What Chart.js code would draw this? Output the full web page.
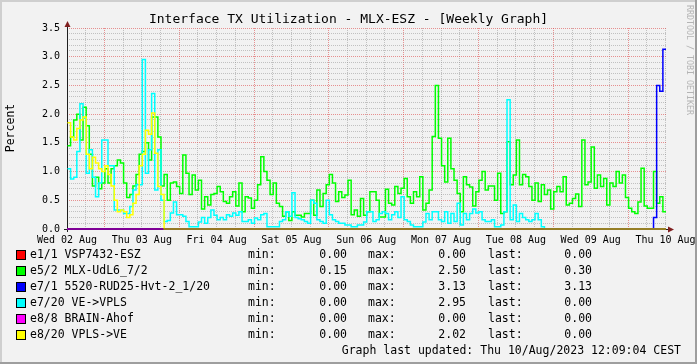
<!DOCTYPE html>
<html lang="en">
<head>
    <meta charset="UTF-8">
    <title>Interface TX Utilization - MLX-ESZ</title>
    <script src="https://cdn.jsdelivr.net/npm/chart.js"></script>
    <style>
        html, body { margin: 0; padding: 0; background: #f2f2f2; }
        #wrap { width: 697px; height: 364px; }
    </style>
</head>
<body>
<div id="wrap"><canvas id="txChart" width="697" height="364"></canvas></div>
<script>
    // one value per hour, first hour starts Wed 02 Aug 12:09 (hours counted from Wed 02 Aug 00:00)
    const startHour = 12.15;
    const chartTitle = 'Interface TX Utilization - MLX-ESZ - [Weekly Graph]';
    const unitLabel = 'Percent';
    const footerText = 'Graph last updated: Thu 10/Aug/2023 12:09:04 CEST';
    const dayLabels = ['Wed 02 Aug', 'Thu 03 Aug', 'Fri 04 Aug', 'Sat 05 Aug', 'Sun 06 Aug',
                       'Mon 07 Aug', 'Tue 08 Aug', 'Wed 09 Aug', 'Thu 10 Aug'];
    const yMax = 3.5;

    const seriesNames = ['e1/1 VSP7432-ESZ', 'e5/2 MLX-UdL6_7/2', 'e7/1 5520-RUD25-Hvt-2_1/20',
                         'e7/20 VE->VPLS', 'e8/8 BRAIN-Ahof', 'e8/20 VPLS->VE'];
    const seriesColors = ['#ff0000', '#00ff00', '#0000ff', '#00ffff', '#ff00ff', '#ffff00'];

    const e1_1 = [
        0, 0, 0, 0, 0, 0, 0, 0, 0, 0, 0, 0, 0, 0, 0, 0, 0, 0, 0, 0, 0, 0, 0, 0, 0, 0, 0, 0, 0, 0, 0, 0,
        0, 0, 0, 0, 0, 0, 0, 0, 0, 0, 0, 0, 0, 0, 0, 0, 0, 0, 0, 0, 0, 0, 0, 0, 0, 0, 0, 0, 0, 0, 0, 0,
        0, 0, 0, 0, 0, 0, 0, 0, 0, 0, 0, 0, 0, 0, 0, 0, 0, 0, 0, 0, 0, 0, 0, 0, 0, 0, 0, 0, 0, 0, 0, 0,
        0, 0, 0, 0, 0, 0, 0, 0, 0, 0, 0, 0, 0, 0, 0, 0, 0, 0, 0, 0, 0, 0, 0, 0, 0, 0, 0, 0, 0, 0, 0, 0,
        0, 0, 0, 0, 0, 0, 0, 0, 0, 0, 0, 0, 0, 0, 0, 0, 0, 0, 0, 0, 0, 0, 0, 0, 0, 0, 0, 0, 0, 0, 0, 0,
        0, 0, 0, 0, 0, 0, 0, 0, 0, 0, 0, 0, 0, 0, 0, 0, 0, 0, 0, 0, 0, 0, 0, 0, 0, 0, 0, 0, 0, 0, 0, 0
    ];
    const e5_2 = [
        1.45, 1.6, 1.9, 2.0, 1.55, 2.12, 1.8, 1.3, 0.75, 0.9, 0.7, 0.8, 1.05, 0.8, 1.05, 1.1,
        1.2, 1.15, 0.8, 0.55, 0.6, 0.75, 0.95, 1.3, 1.35, 1.5, 1.2, 1.95, 1.95, 1.6, 0.75, 0.95,
        0.5, 0.8, 0.82, 0.74, 0.62, 1.29, 0.97, 0.6, 0.94, 0.68, 0.85, 0.35, 0.56, 0.42, 0.6, 0.62,
        0.74, 0.65, 0.48, 0.45, 0.56, 0.65, 0.4, 0.8, 0.3, 0.56, 0.54, 0.36, 0.5, 0.77, 1.26, 1.0,
        0.85, 0.6, 0.8, 0.45, 0.39, 0.22, 0.3, 0.15, 0.3, 0.24, 0.24, 0.21, 0.27, 0.27, 0.5, 0.24,
        0.68, 0.39, 0.62, 0.77, 0.95, 0.8, 0.48, 0.65, 0.55, 0.59, 0.85, 0.25, 0.33, 0.22, 0.53, 0.24,
        0.3, 0.65, 0.65, 0.5, 0.21, 0.21, 0.69, 0.45, 0.42, 0.74, 0.62, 0.71, 0.88, 0.56, 0.45, 0.65,
        0.56, 0.91, 0.33, 0.45, 0.68, 1.61, 2.5, 1.58, 1.1, 0.82, 1.58, 1.05, 0.85, 0.62, 0.3, 0.91,
        0.77, 0.73, 0.4, 0.65, 0.85, 1.0, 0.68, 0.75, 0.75, 0.5, 0.97, 0.27, 0.3, 1.52, 0.77, 0.94,
        1.55, 0.77, 0.95, 0.91, 0.74, 0.5, 0.8, 0.48, 0.77, 0.6, 0.68, 0.35, 0.65, 0.74, 0.65, 0.91,
        0.42, 0.45, 0.53, 0.61, 0.39, 1.55, 0.77, 0.82, 1.43, 0.71, 0.94, 0.74, 0.88, 0.42, 0.8, 0.74,
        1.0, 0.8, 0.94, 0.55, 0.36, 0.3, 0.27, 0.47, 1.06, 0.4, 0.36, 0.36, 1.0, 0.45, 0.56, 0.3
    ];
    const e7_1 = [
        0, 0, 0, 0, 0, 0, 0, 0, 0, 0, 0, 0, 0, 0, 0, 0, 0, 0, 0, 0, 0, 0, 0, 0, 0, 0, 0, 0, 0, 0, 0, 0,
        0, 0, 0, 0, 0, 0, 0, 0, 0, 0, 0, 0, 0, 0, 0, 0, 0, 0, 0, 0, 0, 0, 0, 0, 0, 0, 0, 0, 0, 0, 0, 0,
        0, 0, 0, 0, 0, 0, 0, 0, 0, 0, 0, 0, 0, 0, 0, 0, 0, 0, 0, 0, 0, 0, 0, 0, 0, 0, 0, 0, 0, 0, 0, 0,
        0, 0, 0, 0, 0, 0, 0, 0, 0, 0, 0, 0, 0, 0, 0, 0, 0, 0, 0, 0, 0, 0, 0, 0, 0, 0, 0, 0, 0, 0, 0, 0,
        0, 0, 0, 0, 0, 0, 0, 0, 0, 0, 0, 0, 0, 0, 0, 0, 0, 0, 0, 0, 0, 0, 0, 0, 0, 0, 0, 0, 0, 0, 0, 0,
        0, 0, 0, 0, 0, 0, 0, 0, 0, 0, 0, 0, 0, 0, 0, 0, 0, 0, 0, 0, 0, 0, 0, 0, 0, 0, 0, 0, 0.2, 2.5, 2.4, 3.13
    ];
    const e7_20 = [
        1.05, 0.87, 0.9, 1.35, 2.18, 1.93, 0.97, 1.38, 0.9, 0.56, 0.8, 1.55, 1.55, 1.1, 1.1, 0.33,
        0.33, 0.33, 0.27, 0.27, 0.39, 0.68, 0.77, 0.77, 2.95, 0.97, 1.38, 2.36, 0.68, 1.38, 0.5, 0.13,
        0.15, 0.28, 0.47, 0.25, 0.25, 0.22, 0.13, 0.04, 0.04, 0.04, 0.12, 0.2, 0.1, 0.2, 0.33, 0.24,
        0.16, 0.2, 0.16, 0.25, 0.22, 0.28, 0.24, 0.3, 0.13, 0.13, 0.16, 0.1, 0.19, 0.16, 0.25, 0.27,
        0.04, 0.04, 0.04, 0.04, 0.13, 0.16, 0.3, 0.22, 0.63, 0.2, 0.18, 0.16, 0.13, 0.1, 0.5, 0.45,
        0.16, 0.13, 0.1, 0.5, 0.25, 0.16, 0.13, 0.1, 0.1, 0.07, 0.07, 0.04, 0.04, 0.07, 0.07, 0.12,
        0.3, 0.3, 0.13, 0.16, 0.27, 0.3, 0.27, 0.16, 0.25, 0.3, 0.2, 0.56, 0.16, 0.13, 0.07, 0.04,
        0.04, 0.04, 0.12, 0.27, 0.16, 0.3, 0.3, 0.16, 0.13, 0.3, 0.1, 0.27, 0.13, 0.45, 0.07, 0.27,
        0.16, 0.27, 0.35, 0.28, 0.3, 0.16, 0.13, 0.13, 0.16, 0.04, 0.04, 0.07, 0.3, 2.25, 0.16, 0.42,
        0.13, 0.27, 0.2, 0.16, 0.13, 0.16, 0.27, 0.16, 0.04, 0, 0, 0, 0, 0, 0, 0,
        0, 0, 0, 0, 0, 0, 0, 0, 0, 0, 0, 0, 0, 0, 0, 0, 0, 0, 0, 0, 0, 0, 0, 0, 0, 0, 0, 0, 0, 0, 0, 0
    ];
    const e8_8 = [
        0, 0, 0, 0, 0, 0, 0, 0, 0, 0, 0, 0, 0, 0, 0, 0, 0, 0, 0, 0, 0, 0, 0, 0, 0, 0, 0, 0, 0, 0, 0, 0,
        0, 0, 0, 0, 0, 0, 0, 0, 0, 0, 0, 0, 0, 0, 0, 0, 0, 0, 0, 0, 0, 0, 0, 0, 0, 0, 0, 0, 0, 0, 0, 0,
        0, 0, 0, 0, 0, 0, 0, 0, 0, 0, 0, 0, 0, 0, 0, 0, 0, 0, 0, 0, 0, 0, 0, 0, 0, 0, 0, 0, 0, 0, 0, 0,
        0, 0, 0, 0, 0, 0, 0, 0, 0, 0, 0, 0, 0, 0, 0, 0, 0, 0, 0, 0, 0, 0, 0, 0, 0, 0, 0, 0, 0, 0, 0, 0,
        0, 0, 0, 0, 0, 0, 0, 0, 0, 0, 0, 0, 0, 0, 0, 0, 0, 0, 0, 0, 0, 0, 0, 0, 0, 0, 0, 0, 0, 0, 0, 0,
        0, 0, 0, 0, 0, 0, 0, 0, 0, 0, 0, 0, 0, 0, 0, 0, 0, 0, 0, 0, 0, 0, 0, 0, 0, 0, 0, 0, 0, 0, 0, 0
    ];
    const e8_20 = [
        1.85, 1.6, 1.55, 1.75, 1.9, 1.95, 1.3, 1.05, 1.25, 1.15, 1.05, 1.0, 1.1, 0.95, 0.75, 0.5,
        0.3, 0.33, 0.3, 0.2, 0.25, 0.45, 0.6, 1.1, 1.3, 1.72, 1.65, 2.02, 1.32, 0.74, 0.6, 0,
        0, 0, 0, 0, 0, 0, 0, 0, 0, 0, 0, 0, 0, 0, 0, 0, 0, 0, 0, 0, 0, 0, 0, 0, 0, 0, 0, 0, 0, 0, 0, 0,
        0, 0, 0, 0, 0, 0, 0, 0, 0, 0, 0, 0, 0, 0, 0, 0, 0, 0, 0, 0, 0, 0, 0, 0, 0, 0, 0, 0, 0, 0, 0, 0,
        0, 0, 0, 0, 0, 0, 0, 0, 0, 0, 0, 0, 0, 0, 0, 0, 0, 0, 0, 0, 0, 0, 0, 0, 0, 0, 0, 0, 0, 0, 0, 0,
        0, 0, 0, 0, 0, 0, 0, 0, 0, 0, 0, 0, 0, 0, 0, 0, 0, 0, 0, 0, 0, 0, 0, 0, 0, 0, 0, 0, 0, 0, 0, 0,
        0, 0, 0, 0, 0, 0, 0, 0, 0, 0, 0, 0, 0, 0, 0, 0, 0, 0, 0, 0, 0, 0, 0, 0, 0, 0, 0, 0, 0, 0, 0, 0
    ];
    const seriesValues = [e1_1, e5_2, e7_1, e7_20, e8_8, e8_20];

    const FONT = "'DejaVu Sans Mono', monospace";
    const GRID = 'rgba(143,143,143,0.5)';
    const MGRID = 'rgba(222,79,79,0.6)';

    // grid every 6 hours, from noon Wed to noon Thu 10
    const gridHours = [];
    for (let h = 12; h <= 204; h += 6) gridHours.push(h);

    function isMajorY(v) {
        return Math.abs(v * 2 - Math.round(v * 2)) < 1e-6;
    }

    // each hourly value holds until the next hour (step line)
    function toPoints(values) {
        const pts = values.map((v, i) => ({ x: startHour + i, y: v }));
        pts.push({ x: startHour + values.length, y: values[values.length - 1] });
        return pts;
    }

    const rrdFrame = {
        id: 'rrdFrame',
        beforeDraw(chart) {
            const ctx = chart.ctx, W = chart.width, H = chart.height;
            ctx.save();
            ctx.fillStyle = '#f2f2f2';
            ctx.fillRect(0, 0, W, H);
            ctx.fillStyle = '#cfcfcf';
            ctx.fillRect(0, 0, W, 2);
            ctx.fillRect(0, 0, 2, H);
            ctx.fillStyle = '#9e9e9e';
            ctx.fillRect(0, H - 2, W, 2);
            ctx.fillRect(W - 2, 0, 2, H);
            ctx.restore();
        },
        beforeDatasetsDraw(chart) {
            const ctx = chart.ctx, a = chart.chartArea;
            const y0 = chart.scales.y.getPixelForValue(0);
            ctx.save();
            ctx.strokeStyle = '#1f1f1f';
            ctx.lineWidth = 1;
            ctx.beginPath();
            ctx.moveTo(a.left - 3, Math.round(y0) + 0.5);
            ctx.lineTo(a.right + 3, Math.round(y0) + 0.5);
            ctx.moveTo(a.left + 0.5, y0 + 3);
            ctx.lineTo(a.left + 0.5, a.top - 3);
            ctx.stroke();
            // arrows
            ctx.fillStyle = '#801f1f';
            ctx.beginPath();
            ctx.moveTo(a.left - 2.5, a.top - 1);
            ctx.lineTo(a.left + 3.5, a.top - 1);
            ctx.lineTo(a.left + 0.5, a.top - 7);
            ctx.closePath();
            ctx.fill();
            ctx.beginPath();
            ctx.moveTo(a.right + 2, y0 - 2.5);
            ctx.lineTo(a.right + 2, y0 + 3.5);
            ctx.lineTo(a.right + 8, y0 + 0.5);
            ctx.closePath();
            ctx.fill();
            ctx.restore();
        },
        afterDatasetsDraw(chart) {
            // zero lines sit on the axis and look darker there
            const ctx = chart.ctx, a = chart.chartArea;
            const y0 = chart.scales.y.getPixelForValue(0);
            ctx.save();
            ctx.strokeStyle = 'rgba(0,0,0,0.5)';
            ctx.lineWidth = 1.5;
            ctx.beginPath();
            ctx.moveTo(a.left + 1, y0);
            ctx.lineTo(a.right, y0);
            ctx.stroke();
            ctx.restore();
        },
        afterDraw(chart) {
            const ctx = chart.ctx;
            ctx.save();
            ctx.fillStyle = '#000';
            ctx.textBaseline = 'middle';

            ctx.font = '13px ' + FONT;
            ctx.textAlign = 'center';
            ctx.fillText(chartTitle, 348.5, 20);

            ctx.font = '11.5px ' + FONT;
            ctx.save();
            ctx.translate(11, 128);
            ctx.rotate(-Math.PI / 2);
            ctx.fillText(unitLabel, 0, 0);
            ctx.restore();

            // legend with min / max / last
            seriesNames.forEach((name, i) => {
                const vals = seriesValues[i];
                const y = 255 + i * 16;
                ctx.fillStyle = seriesColors[i];
                ctx.fillRect(17, y - 4, 8, 8);
                ctx.strokeStyle = '#000';
                ctx.lineWidth = 1;
                ctx.strokeRect(16.5, y - 4.5, 9, 9);
                ctx.fillStyle = '#000';
                ctx.textAlign = 'left';
                ctx.fillText(name, 30, y);
                ctx.fillText('min:', 248, y);
                ctx.fillText('max:', 368, y);
                ctx.fillText('last:', 488, y);
                ctx.textAlign = 'right';
                ctx.fillText(Math.min(...vals).toFixed(2), 347, y);
                ctx.fillText(Math.max(...vals).toFixed(2), 466, y);
                ctx.fillText(vals[vals.length - 1].toFixed(2), 592, y);
            });

            ctx.textAlign = 'right';
            ctx.fillText(footerText, 681, 351);

            ctx.font = '8.3px ' + FONT;
            ctx.fillStyle = '#b4b4b4';
            ctx.textAlign = 'left';
            ctx.translate(689, 5);
            ctx.rotate(Math.PI / 2);
            ctx.fillText('RRDTOOL / TOBI OETIKER', 0, 0);
            ctx.restore();
        }
    };

    const ctx = document.getElementById('txChart').getContext('2d');
    const txChart = new Chart(ctx, {
        type: 'line',
        data: {
            datasets: seriesNames.map((name, i) => ({
                label: name,
                data: toPoints(seriesValues[i]),
                borderColor: seriesColors[i],
                backgroundColor: seriesColors[i],
                borderWidth: 1.5,
                pointRadius: 0,
                stepped: 'before',
                fill: false,
                clip: 4,
                order: seriesNames.length - 1 - i
            }))
        },
        options: {
            responsive: false,
            animation: false,
            devicePixelRatio: 1,
            layout: { padding: { left: 0, right: 31, top: 28, bottom: 0 } },
            plugins: {
                legend: { display: false },
                title: { display: false },
                tooltip: { enabled: false }
            },
            scales: {
                x: {
                    type: 'linear',
                    min: 12,
                    max: startHour + 192,
                    afterBuildTicks(scale) {
                        scale.ticks = gridHours.map(v => ({ value: v }));
                    },
                    afterFit(scale) {
                        scale.height = 135;
                        scale.paddingLeft = 0;
                        scale.paddingRight = 0;
                    },
                    ticks: {
                        autoSkip: false,
                        maxRotation: 0,
                        padding: 5,
                        color: '#000',
                        font: { family: FONT, size: 10 },
                        callback: v => ((v - 12) % 24 === 0 ? dayLabels[(v - 12) / 24] : '')
                    },
                    grid: {
                        drawTicks: false,
                        lineWidth: 1,
                        color: c => (c.tick && c.tick.value % 24 === 0 ? MGRID : GRID)
                    },
                    border: { display: false, dash: [1, 1] }
                },
                y: {
                    min: 0,
                    max: yMax,
                    afterFit(scale) {
                        scale.width = 67;
                        scale.paddingTop = 0;
                        scale.paddingBottom = 0;
                    },
                    ticks: {
                        stepSize: 0.1,
                        autoSkip: false,
                        padding: 7,
                        color: '#000',
                        font: { family: FONT, size: 10 },
                        callback: v => (isMajorY(v) ? v.toFixed(1) : '')
                    },
                    grid: {
                        drawTicks: false,
                        lineWidth: 1,
                        color: c => (c.tick && isMajorY(c.tick.value) ? MGRID : GRID)
                    },
                    border: { display: false, dash: [1, 1] }
                }
            }
        },
        plugins: [rrdFrame]
    });
</script>
</body>
</html>
